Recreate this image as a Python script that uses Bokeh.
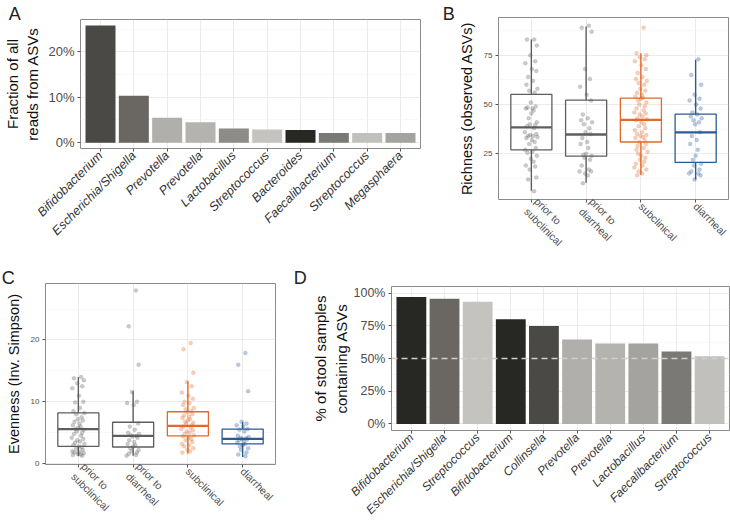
import math
from bokeh.plotting import figure
from bokeh.layouts import row, column
from bokeh.models import FixedTicker, Range1d, Span, ColumnDataSource, LinearAxis
from bokeh.embed import file_html
from bokeh.resources import INLINE

FONT = "Liberation Sans"
NBSP = "\u00a0"

# ---------------- Panel A data ----------------
a_taxa = ["Bifidobacterium", "Escherichia/Shigella", "Prevotella", "Prevotella", "Lactobacillus",
          "Streptococcus", "Bacteroides", "Faecalibacterium", "Streptococcus", "Megasphaera"]
a_frac = [25.8, 10.3, 5.5, 4.5, 3.1, 2.9, 2.8, 2.1, 2.1, 2.1]
a_colors = ["#4b4946", "#6a6763", "#b1afab", "#b5b3af", "#8e8c88",
            "#c5c3bf", "#272723", "#7b7975", "#c2c0bc", "#a5a39f"]
a_ticks = [0, 10, 20]

# ---------------- Panel D data ----------------
d_taxa = ["Bifidobacterium", "Escherichia/Shigella", "Streptococcus", "Bifidobacterium", "Collinsella",
          "Prevotella", "Prevotella", "Lactobacillus", "Faecalibacterium", "Streptococcus"]
d_pct = [97.0, 95.7, 93.4, 80.0, 74.8, 64.6, 61.4, 61.4, 55.3, 51.7]
d_colors = ["#272723", "#6a6763", "#c5c3bf", "#272723", "#4b4946",
            "#b1afab", "#b5b3af", "#a5a39f", "#7b7975", "#c2c0bc"]
d_ticks = [0, 25, 50, 75, 100]
d_threshold = 50

# ---------------- Groups (B, C) ----------------
groups = ["prior to\nsubclinical", "prior to\ndiarrheal", "subclinical", "diarrheal"]
group_colors = ["#5e5e5e", "#5e5e5e", "#e0692b", "#2c5a95"]

# Richness (observed ASVs), points
rich_prior_sub = [83, 83, 80, 75, 72, 71, 68, 67, 64, 62, 60, 58, 57, 56, 51, 49, 48.5, 48, 48, 47,
                  45.5, 43, 41, 40, 39.5, 39, 38, 36, 35, 34.5, 34, 34, 33.5, 33, 32, 31, 30, 28, 27, 26,
                  25.5, 24, 22.5, 21, 19, 18.5, 17, 13, 12, 6]
rich_prior_dia = [90, 89, 87, 68, 63, 59, 55, 52, 45, 43, 42, 41, 40, 38, 36, 35, 33, 31, 30, 28,
                  25, 24.5, 24, 23, 22, 19, 17, 16, 16, 15, 14, 10]
rich_sub = [89, 76, 75, 74, 73, 72, 70, 68, 66, 64, 63, 62, 61, 60, 58, 57, 56, 55, 54, 53.5,
            53, 52, 51, 50, 49, 48, 47, 46, 45.5, 45, 44, 43, 42.5, 42, 41, 40, 39, 38, 37, 36,
            35, 34.5, 34, 33.5, 33, 32, 31, 30, 29, 28, 27, 26, 25, 24, 23, 22, 21, 20, 19, 18,
            17, 16, 15, 14]
rich_dia = [73, 65, 60, 55, 53, 52, 50, 48, 46, 45, 44, 43, 42, 41, 40, 36, 34, 32, 30, 27,
            24, 22, 20, 19, 17, 16, 15, 15, 14, 12]
rich_q1 = [27.0, 23.8, 31.0, 20.6]
rich_med = [38.4, 34.8, 42.2, 35.9]
rich_q3 = [55.2, 52.3, 53.3, 45.1]
rich_lo = [6.2, 10.3, 14.4, 11.9]
rich_hi = [83.0, 89.6, 76.1, 72.7]
rich_ticks = [25, 50, 75]

# Evenness (Inv. Simpson), points
even_prior_sub = [14, 13.8, 13.5, 13, 12.5, 12.2, 11, 10, 9.9, 9, 8.5, 8.2, 8, 7.5, 7.2, 7, 6.8, 6.5,
                  6.2, 6, 5.8, 5.6, 5.5, 5.2, 5, 4.8, 4.5, 4.2, 4, 3.8, 3.6, 3.4, 3.2, 3, 2.8, 2.6,
                  2.4, 2.2, 2, 1.9, 1.8, 1.7, 1.6, 1.5, 1.4, 1.3]
even_prior_dia = [28.0, 22.2, 16.0, 11.6, 10, 9.8, 9.5, 6.5, 6, 5.5, 5, 4.8, 4.6, 4.5, 4.4, 4.2,
                  3.8, 3.5, 3.2, 3, 2.8, 2.5, 2.2, 2, 1.8, 1.6, 1.4, 1.3]
even_sub = [19.5, 18.5, 14.7, 13.2, 12.5, 11.5, 11, 10.5, 10, 9.8, 9.5, 9, 8.8, 8.5, 8.3, 8, 7.8,
            7.6, 7.4, 7.2, 7, 6.8, 6.6, 6.4, 6.2, 6, 5.8, 5.6, 5.4, 5.2, 5, 4.8, 4.6, 4.4, 4.2, 4,
            3.8, 3.5, 3.2, 3, 2.8, 2.5, 2.2, 2, 1.8]
even_dia = [17.9, 16.0, 11.7, 6.8, 6.5, 6.2, 6, 5.6, 5.5, 5.2, 4.5, 4.3, 4.2, 4.1, 4.0, 3.9, 3.8,
            3.6, 3.4, 3.2, 3.0, 2.8, 2.5, 2.2, 1.8, 1.5, 1.2]
even_q1 = [2.8, 2.7, 4.5, 3.2]
even_med = [5.6, 4.5, 6.1, 4.0]
even_q3 = [8.2, 6.7, 8.4, 5.6]
even_lo = [1.2, 1.3, 1.6, 1.1]
even_hi = [14.0, 11.7, 13.3, 6.8]
even_ticks = [0, 10, 20]

# horizontal jitter (category units)
jitter = [0.05, -0.08, 0.10, -0.02, 0.07, -0.11, 0.01, 0.09, -0.06, 0.03, -0.09, 0.11, -0.04, 0.06,
          -0.01, 0.08, -0.07, 0.02, -0.10, 0.04, 0.00, -0.05, 0.10, -0.03, 0.07, -0.08, 0.05, -0.12,
          0.09, -0.02, 0.03, -0.06, 0.11, -0.09, 0.01, 0.06, -0.04, 0.08, -0.11, 0.02, -0.07, 0.10,
          -0.01, 0.04, -0.10, 0.07, -0.03, 0.09, -0.06, 0.05, -0.08, 0.12, -0.05, 0.00, 0.08, -0.02,
          0.06, -0.09, 0.03, -0.12, 0.10, -0.04, 0.02, -0.07, 0.11, -0.01, 0.05, -0.10, 0.07, -0.03]


def style(p, ytick_size, xtick_size, title_size, xitalic, xcolor, title_standoff):
    p.outline_line_color = "#8a8a8a"
    p.outline_line_width = 1
    p.background_fill_color = "white"
    p.border_fill_color = "white"
    for ax in p.axis:
        ax.axis_line_color = None
        ax.major_tick_line_color = "#555555"
        ax.major_tick_out = 3
        ax.major_tick_in = 0
        ax.minor_tick_line_color = None
        ax.major_label_text_font = FONT
        ax.axis_label_text_font = FONT
        ax.axis_label_text_font_style = "normal"
        ax.axis_label_text_color = "#111111"
        ax.axis_label_text_font_size = title_size
        ax.major_label_standoff = 2
        ax.axis_label_standoff = title_standoff
    p.yaxis.major_label_text_font_size = ytick_size
    p.yaxis.major_label_text_color = "#4d4d4d"
    p.xaxis.major_label_text_font_size = xtick_size
    p.xaxis.major_label_text_color = xcolor
    if xitalic:
        p.xaxis.major_label_text_font_style = "italic"
    p.grid.grid_line_color = "#e6e6e6"
    p.grid.grid_line_width = 0.8
    p.ygrid.minor_grid_line_color = "#f3f3f3"
    p.ygrid.minor_grid_line_width = 0.6


def letter(p, text, pad, standoff):
    # panel letter drawn as the single tick label of a blank axis above the frame
    p.extra_x_ranges = {"letter": Range1d(-0.001, 1)}
    ax = LinearAxis(x_range_name="letter", ticker=FixedTicker(ticks=[0]),
                    major_label_overrides={0: text + NBSP * pad})
    ax.axis_line_color = None
    ax.major_tick_line_color = None
    ax.minor_tick_line_color = None
    ax.major_tick_out = 0
    ax.major_tick_in = 0
    ax.major_label_standoff = standoff
    ax.major_label_text_font = FONT
    ax.major_label_text_font_size = "18px"
    ax.major_label_text_color = "#222222"
    p.add_layout(ax, "above")


# ---------------- Panel A ----------------
pA = figure(width=430, height=260, x_range=Range1d(0.4, 10.6), y_range=Range1d(-1.29, 27.1),
            output_backend="svg", toolbar_location=None,
            min_border_left=80, min_border_right=10, min_border_top=17, min_border_bottom=112)
srcA = ColumnDataSource(dict(x=list(range(1, len(a_taxa) + 1)), top=a_frac, color=a_colors))
pA.vbar(x="x", top="top", width=0.9, bottom=0, fill_color="color", line_color=None, source=srcA)
pA.xaxis.ticker = FixedTicker(ticks=list(range(1, len(a_taxa) + 1)))
pA.xaxis.major_label_overrides = {i + 1: t for i, t in enumerate(a_taxa)}
pA.xaxis.major_label_orientation = math.pi / 4
pA.yaxis.ticker = FixedTicker(ticks=a_ticks, minor_ticks=[5, 15, 25])
pA.yaxis.major_label_overrides = {t: f"{t}%" for t in a_ticks}
pA.yaxis.axis_label = "Fraction of all\nreads from ASVs"
style(pA, "13px", "12.5px", "15px", True, "#333333", 4)
letter(pA, "A", 33, -4)


def box_panel(width, height, L, R, T, B, yr, ticks, minor, label, pts, q1, med, q3, lo, hi,
              let, pad, standoff):
    p = figure(width=width, height=height, x_range=Range1d(0.4, 4.6), y_range=Range1d(*yr),
               output_backend="svg", toolbar_location=None,
               min_border_left=L, min_border_right=R, min_border_top=T, min_border_bottom=B)
    xs = list(range(1, len(groups) + 1))
    bw = 0.375
    p.quad(left=[x - bw for x in xs], right=[x + bw for x in xs], bottom=q1, top=q3,
           fill_color=None, line_color=group_colors, line_width=1.3)
    p.segment(x0=xs, y0=q3, x1=xs, y1=hi, line_color=group_colors, line_width=1.4)
    p.segment(x0=xs, y0=lo, x1=xs, y1=q1, line_color=group_colors, line_width=1.4)
    p.segment(x0=[x - bw for x in xs], y0=med, x1=[x + bw for x in xs], y1=med,
              line_color=group_colors, line_width=2.3)
    for i, vals in enumerate(pts):
        px = [xs[i] + jitter[k] for k in range(len(vals))]
        p.scatter(px, vals, size=4, fill_color=group_colors[i], fill_alpha=0.32,
                  line_color=group_colors[i], line_alpha=0.12)
    p.xaxis.ticker = FixedTicker(ticks=xs)
    p.xaxis.major_label_overrides = {i + 1: g for i, g in enumerate(groups)}
    p.xaxis.major_label_orientation = -math.pi / 4
    p.yaxis.ticker = FixedTicker(ticks=ticks, minor_ticks=minor)
    p.yaxis.axis_label = label
    style(p, "8px", "10.5px", "14.5px", False, "#4d4d4d", 6)
    letter(p, let, pad, standoff)
    return p


pB = box_panel(300, 260, 68, 2, 14, 58, (1.8, 94.2), rich_ticks, [12.5, 37.5, 62.5, 87.5],
               "Richness (observed ASVs)", [rich_prior_sub, rich_prior_dia, rich_sub, rich_dia],
               rich_q1, rich_med, rich_q3, rich_lo, rich_hi, "B", 20, -6)

pC = box_panel(284, 265, 45, 9, 23, 55, (-0.13, 29.13), even_ticks, [5, 15, 25],
               "Evenness (Inv. Simpson)", [even_prior_sub, even_prior_dia, even_sub, even_dia],
               even_q1, even_med, even_q3, even_lo, even_hi, "C", 16, -4)

# ---------------- Panel D ----------------
pD = figure(width=446, height=265, x_range=Range1d(0.4, 10.6), y_range=Range1d(-5, 105),
            output_backend="svg", toolbar_location=None,
            min_border_left=107, min_border_right=1, min_border_top=26, min_border_bottom=95)
srcD = ColumnDataSource(dict(x=list(range(1, len(d_taxa) + 1)), top=d_pct, color=d_colors))
pD.vbar(x="x", top="top", width=0.9, bottom=0, fill_color="color", line_color=None, source=srcD)
pD.add_layout(Span(location=d_threshold, dimension="width", line_color="#cfcfcf",
                   line_dash="6 4", line_width=1.6))
pD.xaxis.ticker = FixedTicker(ticks=list(range(1, len(d_taxa) + 1)))
pD.xaxis.major_label_overrides = {i + 1: t for i, t in enumerate(d_taxa)}
pD.xaxis.major_label_orientation = math.pi / 4
pD.yaxis.ticker = FixedTicker(ticks=d_ticks, minor_ticks=[12.5, 37.5, 62.5, 87.5])
pD.yaxis.major_label_overrides = {t: f"{t}%" for t in d_ticks}
pD.yaxis.axis_label = "% of stool samples\ncontaining ASVs"
style(pD, "12.5px", "12px", "15px", True, "#333333", 1)
letter(pD, "D", 44, -1)

layout = column(row(column(pA), column(pB)), row(column(pC), column(pD)))
open("out.html", "w").write(file_html(layout, INLINE))
